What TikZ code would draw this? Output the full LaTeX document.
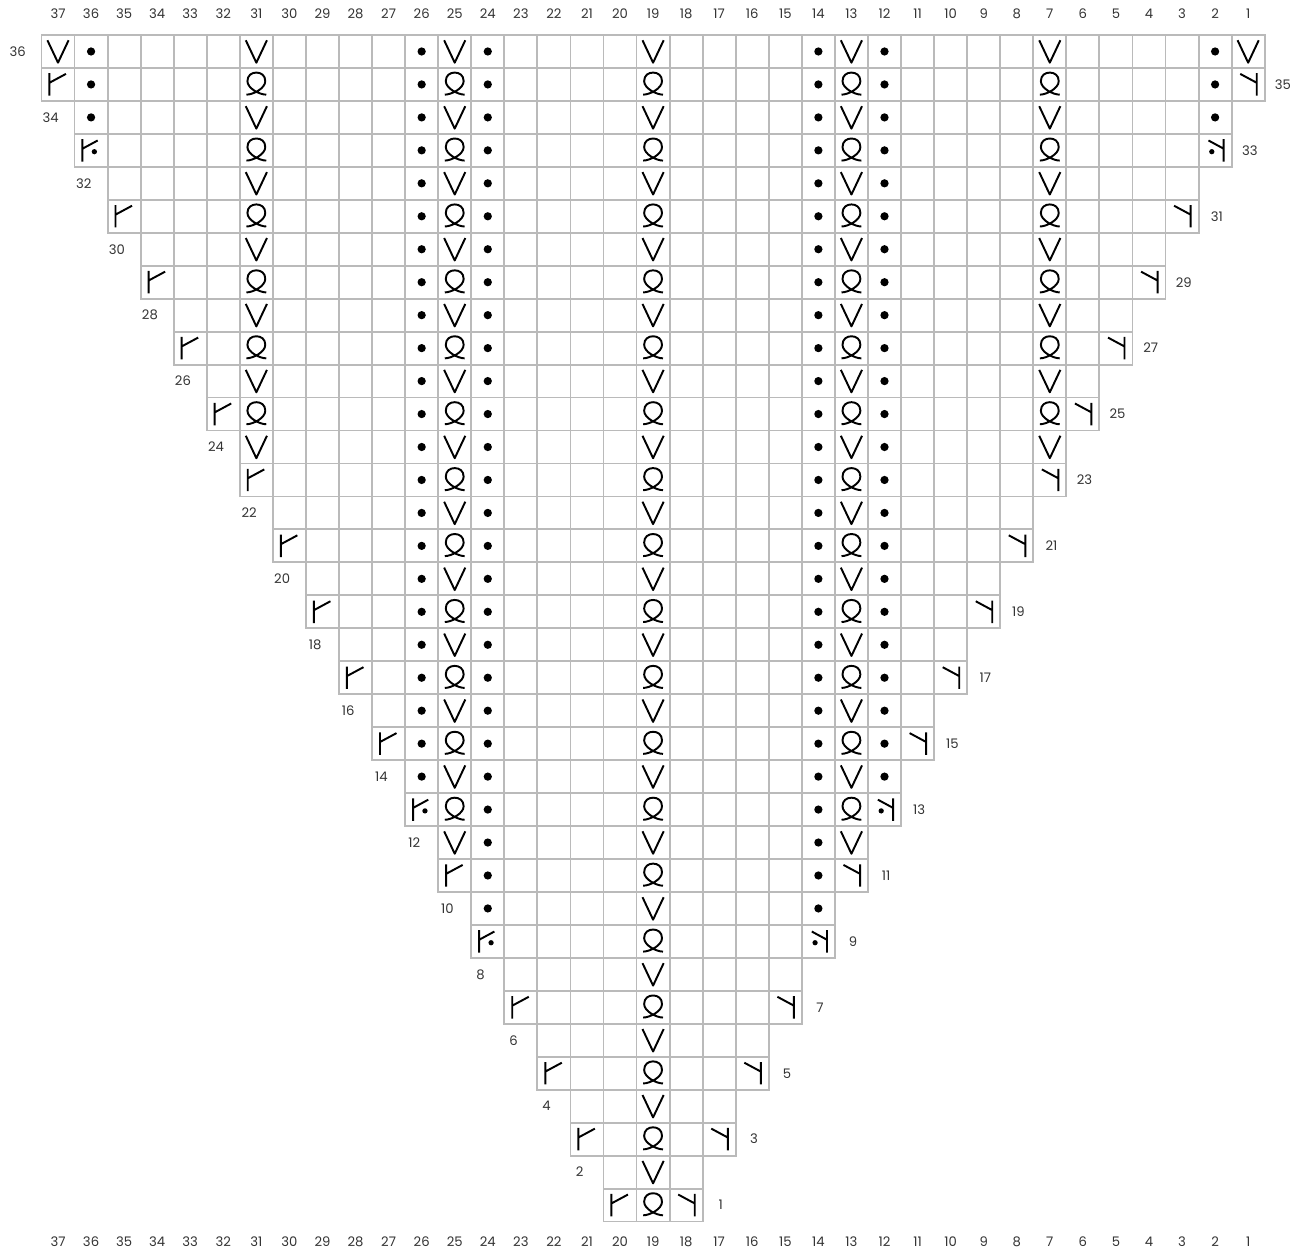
\documentclass[tikz,border=0pt]{standalone}
\usepackage{fontspec}
\setmainfont{Poppins}
\begin{document}
\begin{tikzpicture}[x=0.6612cm,y=0.6592cm,
  gridline/.style={draw=black!27,line width=1.05pt},
  symb/.style={line width=1.1pt,draw=black,line join=round},
  lbl/.style={inner sep=0pt,text=black!80,font=\fontsize{7.5}{9}\selectfont},
  knitV/.pic={\draw[symb] (-0.32,0.34) -- (0,-0.34) -- (0.32,0.34);},
  twist/.pic={\draw[symb] (-0.3,-0.31) .. controls (-0.1,-0.31) and (0.27,-0.12) .. (0.27,0.1)
      .. controls (0.27,0.28) and (0.14,0.36) .. (0,0.36)
      .. controls (-0.14,0.36) and (-0.27,0.28) .. (-0.27,0.1)
      .. controls (-0.27,-0.12) and (0.1,-0.31) .. (0.3,-0.31);},
  purl/.pic={\fill[black] (0,0) circle[radius=0.125];},
  incL/.pic={\draw[symb] (-0.26,-0.34) -- (-0.26,0.34) (-0.26,0.05) -- (0.24,0.32);},
  incR/.pic={\draw[symb] (0.26,-0.34) -- (0.26,0.34) (0.26,0.05) -- (-0.24,0.32);},
  incLp/.pic={\draw[symb] (-0.26,-0.34) -- (-0.26,0.34) (-0.26,0.05) -- (0.2,0.3);
      \fill[black] (0.1,-0.04) circle[radius=0.08];},
  incRp/.pic={\draw[symb] (0.26,-0.34) -- (0.26,0.34) (0.26,0.05) -- (-0.2,0.3);
      \fill[black] (-0.1,-0.04) circle[radius=0.08];}
]
\useasboundingbox (-1.2544,1.0619) rectangle (38.31,-36.954);
% grid
\foreach \r in {1,...,36}{
  \pgfmathtruncatemacro\h{(\r+1)/2}
  \pgfmathtruncatemacro\a{18-\h}
  \pgfmathtruncatemacro\b{18+\h}
  \foreach \i in {\a,...,\b}{\draw[gridline] (\i,\r-36) rectangle ++(1,-1);}
}
% column labels
\foreach \c in {1,...,37}{
  \node[lbl] (t\c) at (37.5-\c,0.637) {\c};
  \node[lbl] (b\c) at (37.5-\c,-36.62) {\c};
}
% row labels
\foreach \r in {1,...,36}{
  \pgfmathtruncatemacro\h{(\r+1)/2}
  \ifodd\r
    \node[lbl] (r\r) at (19+\h+0.55,\r-36.5) {\r};
  \else
    \node[lbl] (r\r) at (18-\h-0.72,\r-36.5) {\r};
  \fi
}
% edge increases
\foreach \r/\cl/\cr in {1/20/18,3/21/17,5/22/16,7/23/15,11/25/13,15/27/11,17/28/10,19/29/9,21/30/8,23/31/7,25/32/6,27/33/5,29/34/4,31/35/3,35/37/1}{
  \path (37.5-\cl,\r-36.5) pic {incL};
  \path (37.5-\cr,\r-36.5) pic {incR};
}
\foreach \r/\cl/\cr in {9/24/14,13/26/12,33/36/2}{
  \path (37.5-\cl,\r-36.5) pic {incLp};
  \path (37.5-\cr,\r-36.5) pic {incRp};
}
% centre column 19
\foreach \r in {1,3,...,35}{\path (18.5,\r-36.5) pic {twist};}
\foreach \r in {2,4,...,36}{\path (18.5,\r-36.5) pic {knitV};}
% columns 25 and 13
\foreach \c in {25,13}{
  \foreach \r in {13,15,...,35}{\path (37.5-\c,\r-36.5) pic {twist};}
  \foreach \r in {12,14,...,36}{\path (37.5-\c,\r-36.5) pic {knitV};}
}
% columns 31 and 7
\foreach \c in {31,7}{
  \foreach \r in {25,27,...,35}{\path (37.5-\c,\r-36.5) pic {twist};}
  \foreach \r in {24,26,...,36}{\path (37.5-\c,\r-36.5) pic {knitV};}
}
% columns 37 and 1
\foreach \c in {37,1}{\path (37.5-\c,-0.5) pic {knitV};}
% purl columns
\foreach \c in {24,14}{\foreach \r in {10,...,36}{\path (37.5-\c,\r-36.5) pic {purl};}}
\foreach \c in {26,12}{\foreach \r in {14,...,36}{\path (37.5-\c,\r-36.5) pic {purl};}}
\foreach \c in {36,2}{\foreach \r in {34,...,36}{\path (37.5-\c,\r-36.5) pic {purl};}}
\end{tikzpicture}
\end{document}
